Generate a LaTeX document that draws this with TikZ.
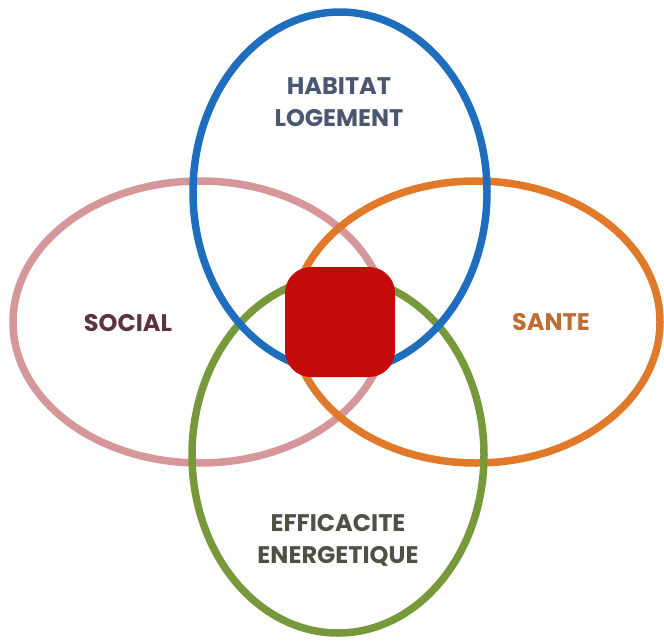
\documentclass[tikz,border=0pt]{standalone}
\usepackage{fontspec}
\setmainfont{Poppins}
\usepackage{tikz}
\usetikzlibrary{positioning}

\definecolor{habitatblue}{HTML}{1F6EBD}
\definecolor{socialpink}{HTML}{D6979B}
\definecolor{santeorange}{HTML}{E07A2A}
\definecolor{energiegreen}{HTML}{77993B}
\definecolor{coeurred}{HTML}{C40A0A}
\definecolor{habitattext}{HTML}{4B5670}
\definecolor{socialtext}{HTML}{5C3343}
\definecolor{santetext}{HTML}{BC6E35}
\definecolor{energietext}{HTML}{4D5244}

\tikzset{
  cercle/.style={line width=7.5pt},
  titre/.style={font=\bfseries\fontsize{24}{32}\selectfont, align=center, inner sep=0pt}
}

\begin{document}
\begin{tikzpicture}[x=1pt,y=-1pt]
\useasboundingbox (0,0) rectangle (664,643);
% the four domains
\draw [cercle, socialpink] (200,322) ellipse (187 and 141);
\draw [cercle, santeorange] (476,322) ellipse (184 and 141);
\draw [cercle, energiegreen] (338,455) ellipse (146 and 178);
\draw [cercle, habitatblue] (340,192) ellipse (147 and 180);
% the common core
\fill [coeurred, rounded corners=26pt] (285,267) rectangle (395,377);
% labels
\node [titre, text=habitattext] (habitat) at (339,102) {HABITAT\\LOGEMENT};
\node [titre, text=socialtext] (social) at (128,323) {SOCIAL};
\node [titre, text=santetext] (sante) at (551,322) {SANTE};
\node [titre, text=energietext] (efficacite) at (338,540) {EFFICACITE\\ENERGETIQUE};
\end{tikzpicture}
\end{document}
